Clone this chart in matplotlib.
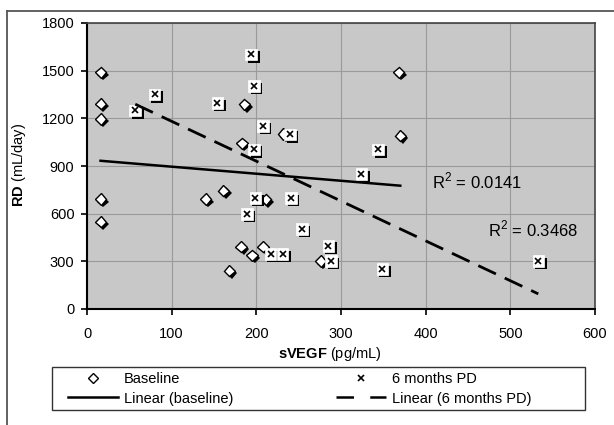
import matplotlib
matplotlib.use("Agg")
import matplotlib.pyplot as plt
import matplotlib.patheffects as pe
from matplotlib.lines import Line2D
from matplotlib.patches import Rectangle
import numpy as np

plt.rcParams["font.family"] = "Liberation Sans"
plt.rcParams["mathtext.fontset"] = "custom"
plt.rcParams["mathtext.rm"] = "Liberation Sans"
plt.rcParams["mathtext.bf"] = "Liberation Sans:bold"

# baseline: sVEGF (pg/mL) vs RD (mL/day)
base_x = [16, 16, 16, 16, 16, 140, 161, 168, 182, 186, 183, 195, 211, 208,
          232, 276, 368, 370]
base_y = [1490, 1292, 1196, 692, 549, 692, 745, 241, 392, 1288, 1043, 338,
          690, 392, 1101, 302, 1490, 1091]

# 6 months PD
pd_x = [194, 197, 80, 57, 154, 197, 208, 240, 344, 199, 241, 324, 254, 217,
        231, 285, 288, 349, 189, 533]
pd_y = [1603, 1403, 1351, 1250, 1296, 1005, 1152, 1099, 1005, 700, 700, 850,
        503, 346, 346, 398, 302, 252, 598, 302]

# linear trendlines as shown on the chart: (intercept, slope)
trend_base = (940, -0.443)
trend_pd = (1432, -2.508)
r2_base = "0.0141"
r2_pd = "0.3468"

xticks = list(range(0, 601, 100))
yticks = list(range(0, 1801, 300))

W, H = 614, 425
fig = plt.figure(figsize=(W / 100, H / 100), dpi=100)
ax = fig.add_axes([87 / W, 1 - 309 / H, (595 - 87) / W, (309 - 23) / H])
ax.set_facecolor("#c8c8c8")
ax.set_xlim(0, 600)
ax.set_ylim(0, 1800)
ax.set_xticks(xticks)
ax.set_yticks(yticks)
ax.grid(color="#9a9a9a", lw=0.8)
ax.set_axisbelow(True)
ax.tick_params(direction="out", length=4, width=1.2, labelsize=10.5, colors="k")
ax.tick_params(axis="x", pad=9)
ax.tick_params(axis="y", pad=5)
for s in ["left", "bottom"]:
    ax.spines[s].set_linewidth(1.5)
    ax.spines[s].set_color("k")
for s in ["top", "right"]:
    ax.spines[s].set_linewidth(1.2)
    ax.spines[s].set_color("#444444")

shadow = [pe.SimplePatchShadow(offset=(1.8, -1.8), shadow_rgbFace="k", alpha=1.0),
          pe.Normal()]

# baseline diamonds
ax.plot(base_x, base_y, ls="none", marker="D", ms=5.8, mfc="white", mec="k",
        mew=1, path_effects=shadow, zorder=3)

# 6 months PD: white boxes with shadow and an x
ax.plot(pd_x, pd_y, ls="none", marker="s", ms=8.3, mfc="white", mec="white",
        mew=0.5, path_effects=shadow, zorder=4)
ax.plot(pd_x, pd_y, ls="none", marker="x", ms=4.5, mec="k", mew=1.2, zorder=5)

# linear trendlines over the data range
bx = np.array([min(base_x), max(base_x)])
ax.plot(bx, trend_base[0] + trend_base[1] * bx, color="k", lw=1.8, zorder=6)
px = np.array([min(pd_x), max(pd_x)])
ax.plot(px, trend_pd[0] + trend_pd[1] * px, color="k", lw=2, dashes=(7, 3.5),
        zorder=6)

ax.text(407, 758, r"R$^2$ = " + r2_base, fontsize=12, va="baseline")
ax.text(474, 455, r"R$^2$ = " + r2_pd, fontsize=12, va="baseline")

ax.set_ylabel(r"$\mathbf{RD}$ (mL/day)", fontsize=10.5)
ax.set_xlabel(r"$\mathbf{sVEGF}$ (pg/mL)", fontsize=10.5)
ax.yaxis.set_label_coords((28 - 87) / 508, 0.503)
ax.xaxis.set_label_coords((330 - 87) / 508, (309 - 345) / 286)

# legend
handles = [
    Line2D([], [], ls="none", marker="D", ms=5, mfc="white", mec="k", mew=1),
    Line2D([], [], color="k", lw=1.8),
    Line2D([], [], ls="none", marker="x", ms=5, mec="k", mew=1.2),
    Line2D([], [], color="k", lw=1.8, dashes=(7, 6.5)),
]
labels = ["Baseline", "Linear (baseline)", "6 months PD", "Linear (6 months PD)"]
fs = 10.5 * 100 / 72
fig.legend(handles, labels, loc="upper left", ncol=2, frameon=False,
           bbox_to_anchor=(68 / W, 1 - 372 / H), bbox_transform=fig.transFigure,
           fontsize=10.5, borderpad=0, borderaxespad=0,
           handlelength=50 / fs, handletextpad=6 / fs,
           columnspacing=(332 - 229) / fs, labelspacing=0.38)
fig.add_artist(Rectangle((51.7 / W, 1 - 410 / H), (585 - 51.7) / W, 43 / H,
                         transform=fig.transFigure, fill=False, ec="#333333", lw=1))

# outer chart frame (cropped)
fig.add_artist(Line2D([7 / W, 7 / W], [0, 1 - 10.7 / H], transform=fig.transFigure,
                      color="#555555", lw=1.3))
fig.add_artist(Line2D([7 / W, 1], [1 - 10.7 / H, 1 - 10.7 / H],
                      transform=fig.transFigure, color="#555555", lw=1.3))

fig.savefig("out.png", dpi=100)
